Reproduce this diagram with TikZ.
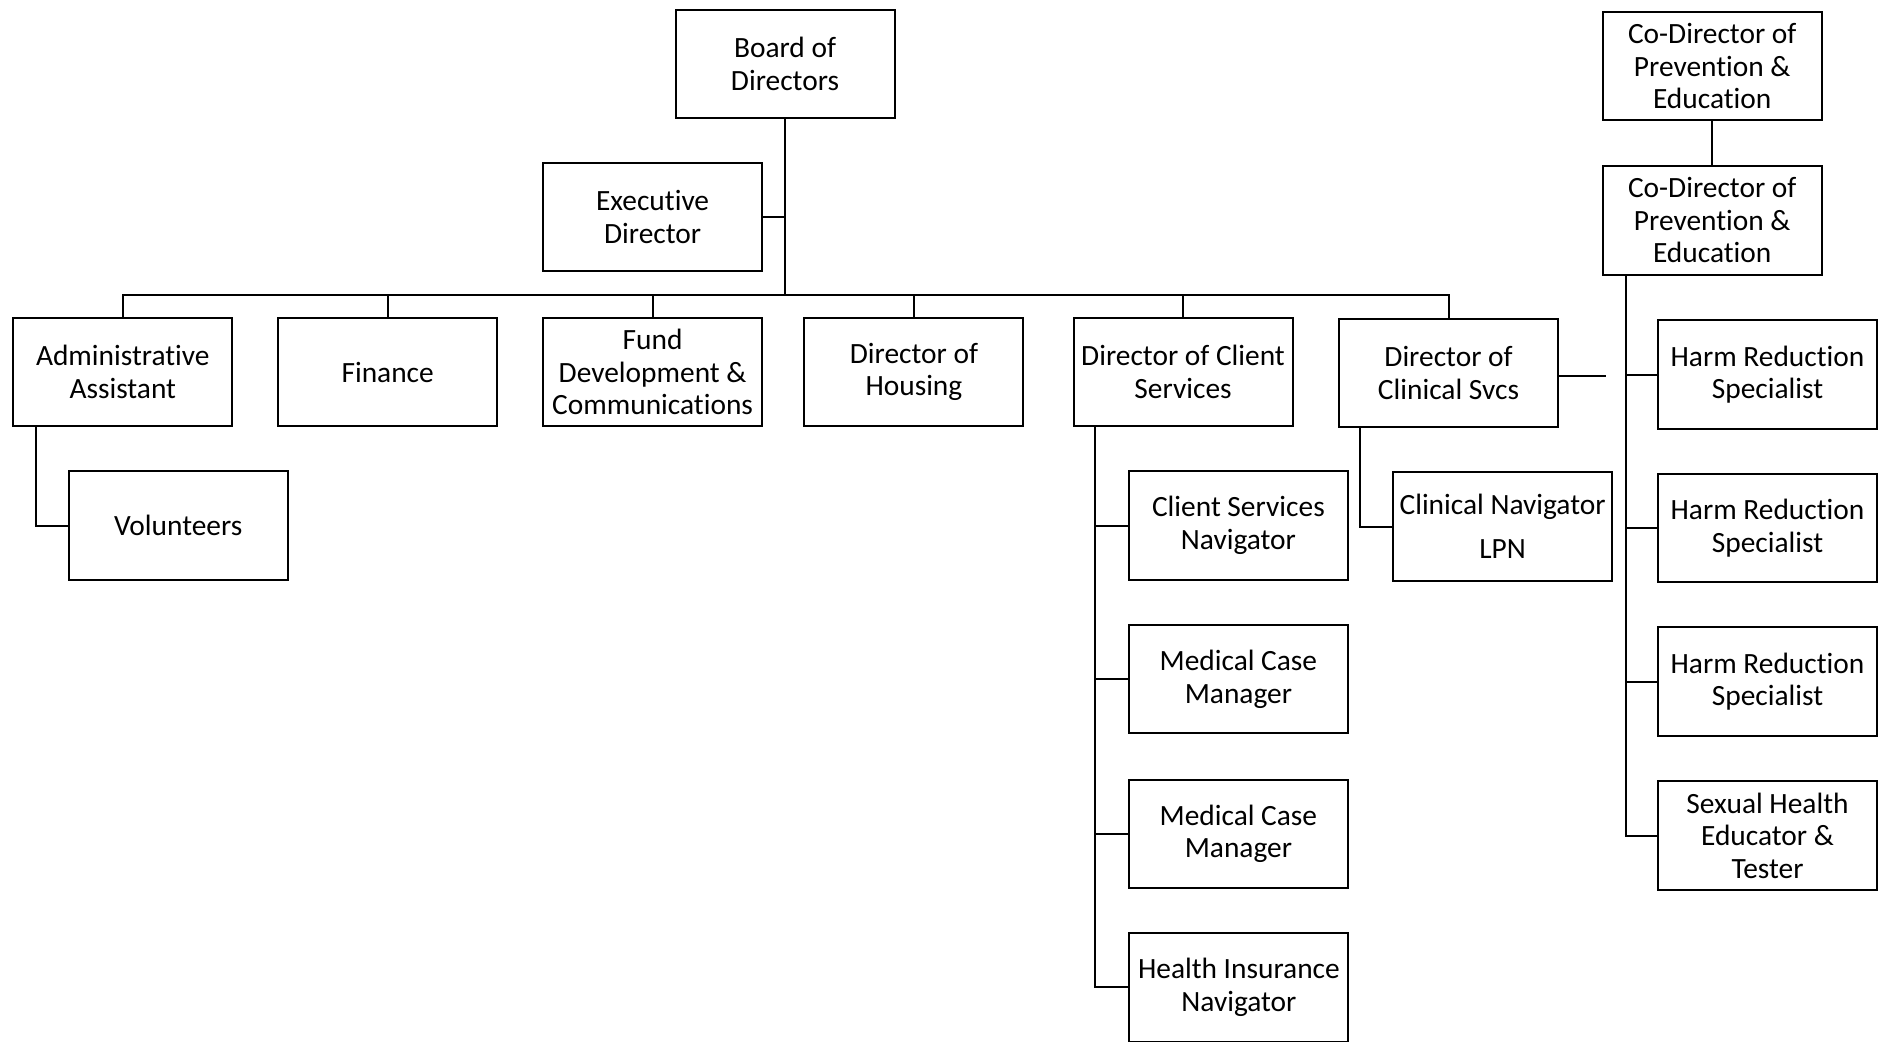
\documentclass[tikz,border=0pt]{standalone}
\usepackage{fontspec}
\setmainfont{Carlito}[Ligatures={NoCommon}]
\begin{document}
\begin{tikzpicture}[x=0.5pt,y=-0.5pt,
  box/.style={draw, line width=1pt, minimum width=109.5pt, minimum height=54.2pt,
    align=center, inner sep=1pt, font=\fontsize{14.7}{16.3}\selectfont},
  conn/.style={line width=1pt}]
\useasboundingbox (0,0) rectangle (1888,1041);
% top
\node[box] (board) at (785,64) {Board of\\Directors};
\node[box] (exec) at (652.6,217) {Executive\\Director};
% row
\node[box] (admin) at (122.8,372) {Administrative\\Assistant};
\node[box] (fin) at (387.7,372) {Finance};
\node[box] (fund) at (652.6,372) {Fund\\Development \&\\Communications};
\node[box] (hous) at (913.9,372) {Director of\\Housing};
\node[box] (csvc) at (1183,372) {Director of Client\\Services};
\node[box] (clin) at (1448.5,373) {Director of\\Clinical Svcs};
% admin child
\node[box] (vol) at (178.2,525.6) {Volunteers};
% client services children
\node[box] (csn) at (1238.4,525.6) {Client Services\\Navigator};
\node[box] (mcm1) at (1238.4,679) {Medical Case\\Manager};
\node[box] (mcm2) at (1238.4,833.8) {Medical Case\\Manager};
\node[box] (hin) at (1238.9,987.4) {Health Insurance\\Navigator};
% clinical child
\node[box] (cnav) at (1502.6,526.5) {Clinical Navigator\\[5.5pt]LPN};
% prevention
\node[box] (cd1) at (1712.2,66.2) {Co-Director of\\Prevention \&\\Education};
\node[box] (cd2) at (1712.2,220.3) {Co-Director of\\Prevention \&\\Education};
\node[box] (hr1) at (1767.5,374.5) {Harm Reduction\\Specialist};
\node[box] (hr2) at (1767.5,528) {Harm Reduction\\Specialist};
\node[box] (hr3) at (1767.5,681.5) {Harm Reduction\\Specialist};
\node[box] (she) at (1767.5,835.6) {Sexual Health\\Educator \&\\Tester};
% connectors
\coordinate (bus) at (785,295);
\draw[conn] (board.south) -- (bus);
\draw[conn] (exec.east) -- (exec.east -| board.south);
\draw[conn] (admin.north) |- (bus) -| (clin.north);
\foreach \n in {fin,fund,hous,csvc} \draw[conn] (\n.north) -- (\n.north |- bus);
\draw[conn] ([xshift=12pt]admin.south west) |- (vol.west);
\coordinate (cs) at ([xshift=11.1pt]csvc.south west);
\draw[conn] (cs) |- (hin.west);
\foreach \n in {csn,mcm1,mcm2} \draw[conn] (\n.west) -- (\n.west -| cs);
\draw[conn] ([xshift=10.8pt]clin.south west) |- (cnav.west);
\coordinate (stubend) at (1606,376);
\draw[conn] (clin.east |- stubend) -- (stubend);
\draw[conn] (cd1.south) -- (cd2.north);
\coordinate (pv) at ([xshift=12pt]cd2.south west);
\draw[conn] (pv) |- (she.west);
\foreach \n in {hr1,hr2,hr3} \draw[conn] (\n.west) -- (\n.west -| pv);
\end{tikzpicture}
\end{document}
